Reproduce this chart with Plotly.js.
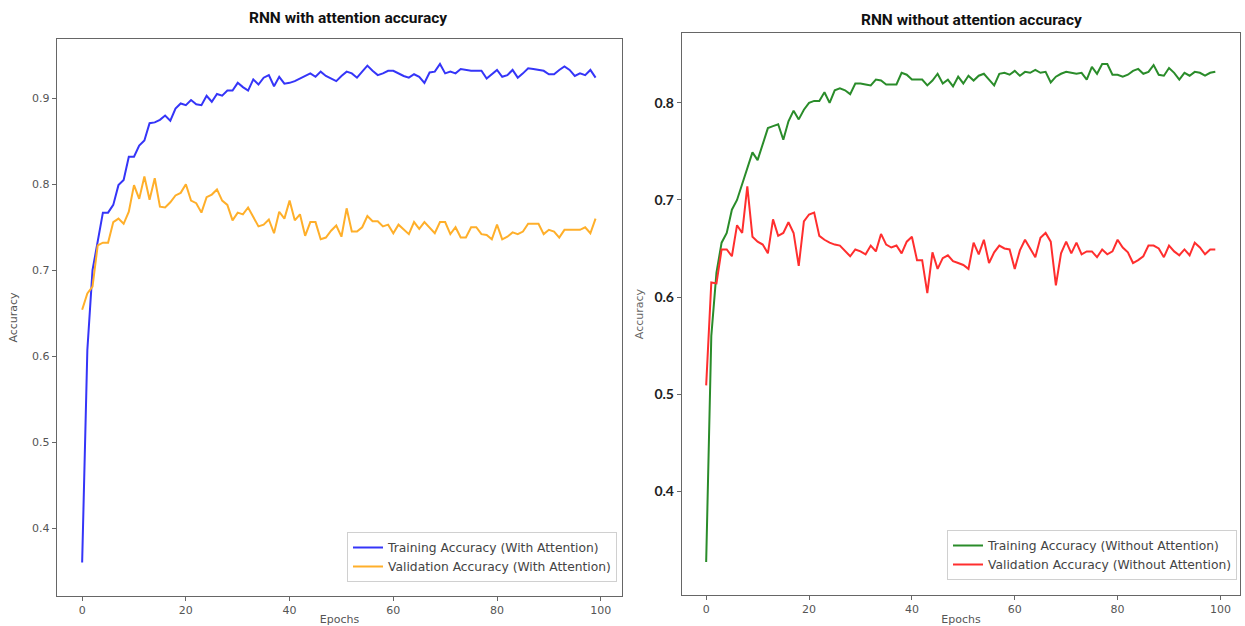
<!DOCTYPE html>
<html>
<head>
<meta charset="utf-8">
<script src="https://cdn.plot.ly/plotly-3.0.1.min.js"></script>
<style>html,body{margin:0;padding:0;background:#fff;}#chart{width:1245px;height:626px;}</style>
</head>
<body>
<div id="chart"></div>
<script>
const epochs = Array.from({length: 100}, (_, i) => i);

const trainWithAttention = [
0.360,0.607,0.700,0.735,0.767,0.767,0.776,0.799,0.805,0.832,
0.832,0.845,0.851,0.871,0.872,0.875,0.880,0.874,0.888,0.894,
0.892,0.898,0.893,0.892,0.903,0.896,0.905,0.903,0.909,0.909,
0.918,0.913,0.909,0.922,0.916,0.924,0.927,0.914,0.925,0.917,
0.918,0.920,0.923,0.926,0.929,0.925,0.931,0.926,0.923,0.920,
0.926,0.931,0.929,0.924,0.931,0.938,0.932,0.927,0.929,0.932,
0.932,0.929,0.926,0.924,0.928,0.925,0.918,0.930,0.931,0.940,
0.929,0.931,0.929,0.934,0.933,0.932,0.932,0.932,0.923,0.928,
0.933,0.925,0.927,0.933,0.924,0.929,0.935,0.934,0.933,0.932,
0.928,0.928,0.933,0.937,0.933,0.926,0.929,0.927,0.933,0.924];

const valWithAttention = [
0.654,0.673,0.681,0.729,0.732,0.732,0.756,0.760,0.754,0.768,
0.799,0.783,0.809,0.782,0.807,0.774,0.773,0.779,0.787,0.790,
0.800,0.781,0.778,0.767,0.785,0.788,0.794,0.781,0.776,0.758,
0.767,0.765,0.773,0.762,0.751,0.753,0.759,0.743,0.768,0.760,
0.781,0.758,0.765,0.740,0.756,0.756,0.736,0.738,0.746,0.752,
0.739,0.772,0.745,0.745,0.750,0.763,0.757,0.757,0.751,0.753,
0.743,0.753,0.748,0.742,0.756,0.748,0.756,0.750,0.743,0.756,
0.756,0.742,0.750,0.738,0.738,0.750,0.750,0.742,0.741,0.736,
0.753,0.736,0.739,0.744,0.742,0.745,0.754,0.754,0.754,0.742,
0.747,0.745,0.738,0.747,0.747,0.747,0.747,0.750,0.743,0.760];

const trainWithoutAttention = [
0.327,0.560,0.625,0.656,0.666,0.690,0.700,0.717,0.734,0.749,
0.741,0.757,0.774,0.776,0.778,0.762,0.781,0.792,0.783,0.793,
0.800,0.802,0.802,0.811,0.800,0.813,0.815,0.813,0.809,0.820,
0.820,0.819,0.818,0.824,0.823,0.819,0.819,0.819,0.831,0.829,
0.824,0.824,0.824,0.818,0.823,0.830,0.820,0.824,0.817,0.827,
0.820,0.828,0.823,0.828,0.830,0.824,0.818,0.830,0.831,0.829,
0.833,0.828,0.832,0.831,0.834,0.831,0.832,0.821,0.827,0.830,
0.832,0.831,0.830,0.831,0.824,0.837,0.830,0.840,0.840,0.829,
0.829,0.827,0.829,0.833,0.835,0.830,0.832,0.839,0.829,0.828,
0.836,0.831,0.824,0.831,0.828,0.832,0.831,0.828,0.831,0.832];

const valWithoutAttention = [
0.509,0.615,0.614,0.649,0.649,0.642,0.674,0.666,0.714,0.662,
0.657,0.654,0.645,0.680,0.663,0.666,0.677,0.666,0.632,0.678,
0.685,0.687,0.663,0.659,0.656,0.654,0.653,0.648,0.642,0.649,
0.647,0.644,0.653,0.647,0.665,0.654,0.651,0.653,0.645,0.657,
0.662,0.638,0.638,0.604,0.646,0.629,0.640,0.643,0.637,0.635,
0.633,0.629,0.656,0.644,0.659,0.635,0.646,0.653,0.650,0.649,
0.629,0.648,0.659,0.650,0.641,0.661,0.666,0.657,0.612,0.645,
0.657,0.645,0.656,0.644,0.647,0.647,0.641,0.649,0.644,0.647,
0.659,0.651,0.646,0.635,0.638,0.642,0.653,0.653,0.650,0.641,
0.653,0.647,0.643,0.649,0.643,0.656,0.651,0.644,0.649,0.649];

const leftTitle = "RNN with attention accuracy";
const rightTitle = "RNN without attention accuracy";
const xLabel = "Epochs";
const yLabel = "Accuracy";
const names = [
  "Training Accuracy (With Attention)",
  "Validation Accuracy (With Attention)",
  "Training Accuracy (Without Attention)",
  "Validation Accuracy (Without Attention)"
];
const xTicks = [0, 20, 40, 60, 80, 100];
const yTicksLeft = [0.4, 0.5, 0.6, 0.7, 0.8, 0.9];
const yTicksRight = [0.4, 0.5, 0.6, 0.7, 0.8];

const traces = [
  {x: epochs, y: trainWithAttention, name: names[0], type: 'scatter', mode: 'lines',
   line: {color: '#3535f8', width: 2}, xaxis: 'x', yaxis: 'y', legend: 'legend'},
  {x: epochs, y: valWithAttention, name: names[1], type: 'scatter', mode: 'lines',
   line: {color: '#ffaf2a', width: 2}, xaxis: 'x', yaxis: 'y', legend: 'legend'},
  {x: epochs, y: trainWithoutAttention, name: names[2], type: 'scatter', mode: 'lines',
   line: {color: '#2a8c2a', width: 2}, xaxis: 'x2', yaxis: 'y2', legend: 'legend2'},
  {x: epochs, y: valWithoutAttention, name: names[3], type: 'scatter', mode: 'lines',
   line: {color: '#ff2e2e', width: 2}, xaxis: 'x2', yaxis: 'y2', legend: 'legend2'}
];

const tickFont = {family: 'DejaVu Sans, sans-serif', size: 11, color: '#555'};
const axisCommon = {
  showline: true, mirror: true, linecolor: '#666', linewidth: 1.2,
  showgrid: false, zeroline: false, ticks: 'outside', ticklen: 4, tickwidth: 1, tickcolor: '#666',
  tickfont: tickFont
};
const legendCommon = {
  bgcolor: 'rgba(255,255,255,0.9)', bordercolor: '#d0d0d0', borderwidth: 1,
  font: {family: 'DejaVu Sans, sans-serif', size: 12.3, color: '#444'},
  xanchor: 'right', yanchor: 'bottom', tracegroupgap: 0, itemwidth: 30
};

const layout = {
  width: 1245, height: 626,
  margin: {l: 0, r: 0, t: 0, b: 0},
  paper_bgcolor: '#fff', plot_bgcolor: '#fff',
  showlegend: true,
  xaxis: Object.assign({}, axisCommon, {
    domain: [57/1245, 622/1245], range: [-4.85, 104.1], tickvals: xTicks,
    anchor: 'y',
    title: {text: xLabel, font: {family: 'DejaVu Sans, sans-serif', size: 11, color: '#555'}, standoff: 4}
  }),
  yaxis: Object.assign({}, axisCommon, {
    domain: [1 - 596/626, 1 - 39/626], range: [0.321, 0.969], tickvals: yTicksLeft,
    tickformat: '.1f', anchor: 'x',
    title: {text: yLabel, font: {family: 'DejaVu Sans, sans-serif', size: 11, color: '#555'}, standoff: 12}
  }),
  xaxis2: Object.assign({}, axisCommon, {
    domain: [682/1245, 1240/1245], range: [-4.7, 103.8], tickvals: xTicks,
    anchor: 'y2',
    title: {text: xLabel, font: {family: 'DejaVu Sans, sans-serif', size: 11, color: '#555'}, standoff: 4}
  }),
  yaxis2: Object.assign({}, axisCommon, {
    domain: [1 - 595/626, 1 - 33/626], range: [0.293, 0.872], tickvals: yTicksRight,
    tickformat: '.1f', anchor: 'x2',
    tickfont: {family: 'Lato, sans-serif', size: 14, color: '#222', weight: 'bold'},
    title: {text: yLabel, font: {family: 'DejaVu Sans, sans-serif', size: 11, color: '#666'}, standoff: 8}
  }),
  legend: Object.assign({}, legendCommon, {x: 617/1245, y: 1 - 582/626}),
  legend2: Object.assign({}, legendCommon, {x: 1237/1245, y: 1 - 580/626}),
  annotations: [
    {text: leftTitle, xref: 'paper', yref: 'paper', x: 348/1245, y: 1 - 18/626,
     xanchor: 'center', yanchor: 'middle', showarrow: false,
     font: {family: 'Roboto, sans-serif', size: 15.5, color: '#111', weight: 'bold'}},
    {text: rightTitle, xref: 'paper', yref: 'paper', x: 971/1245, y: 1 - 20/626,
     xanchor: 'center', yanchor: 'middle', showarrow: false,
     font: {family: 'Roboto, sans-serif', size: 15.5, color: '#111', weight: 'bold'}}
  ]
};

Plotly.newPlot('chart', traces, layout, {displayModeBar: false, staticPlot: true});
</script>
</body>
</html>
